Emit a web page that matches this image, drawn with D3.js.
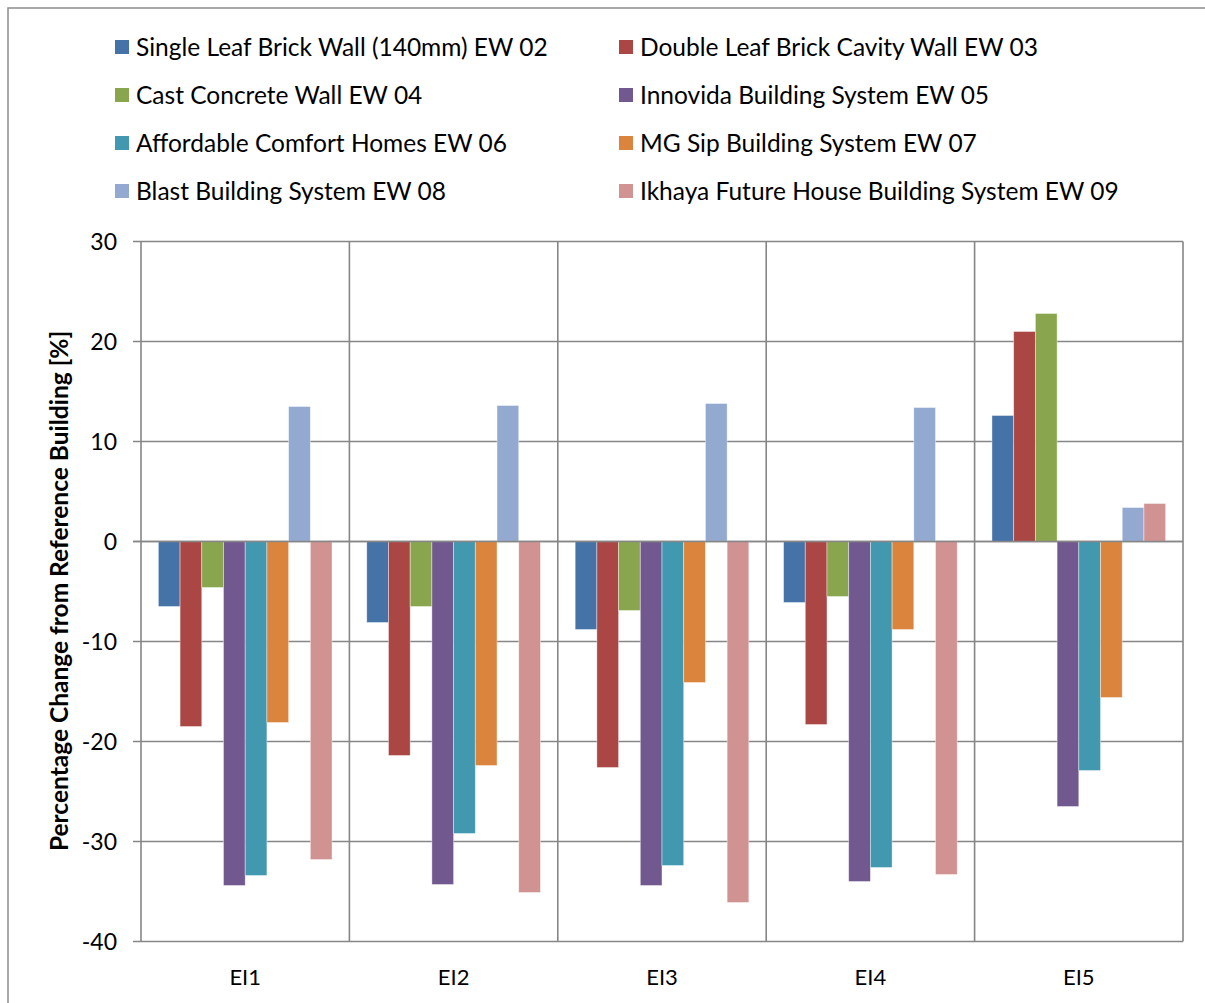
<!DOCTYPE html>
<html lang="en">
<head>
<meta charset="UTF-8">
<title>Percentage Change from Reference Building</title>
<script src="https://d3js.org/d3.v7.min.js"></script>
<style>
  body { margin: 0; background: #fff; }
  svg { display: block; font-family: Lato, "Open Sans", sans-serif; }
  .grid line { stroke: #868686; stroke-width: 1.6; }
  .axis text { font-size: 23px; fill: #000; }
  .legend text { font-size: 24.5px; fill: #000; }
</style>
</head>
<body>
<div id="chart"></div>
<script>
// categories (x axis)
const categories = ["EI1", "EI2", "EI3", "EI4", "EI5"];

// series names
const seriesNames = [
  "Single Leaf Brick Wall (140mm) EW 02",
  "Double Leaf Brick Cavity Wall EW 03",
  "Cast Concrete Wall EW 04",
  "Innovida Building System EW 05",
  "Affordable Comfort Homes EW 06",
  "MG Sip Building System EW 07",
  "Blast Building System EW 08",
  "Ikhaya Future House Building System EW 09"
];

const seriesColors = ["#4572A7", "#AA4643", "#89A54E", "#71588F", "#4198AF", "#DB843D", "#93A9CF", "#D19392"];

// values per series, one per category (EI1..EI5)
const ew02 = [-6.5, -8.1, -8.8, -6.1, 12.6];
const ew03 = [-18.5, -21.4, -22.6, -18.3, 21.0];
const ew04 = [-4.6, -6.5, -6.9, -5.5, 22.8];
const ew05 = [-34.4, -34.3, -34.4, -34.0, -26.5];
const ew06 = [-33.4, -29.2, -32.4, -32.6, -22.9];
const ew07 = [-18.1, -22.4, -14.1, -8.8, -15.6];
const ew08 = [13.5, 13.6, 13.8, 13.4, 3.4];
const ew09 = [-31.8, -35.1, -36.1, -33.3, 3.8];

const yTicks = [30, 20, 10, 0, -10, -20, -30, -40];

const seriesValues = [ew02, ew03, ew04, ew05, ew06, ew07, ew08, ew09];

const W = 1205, H = 1003;
const plot = { left: 141, right: 1183, top: 241.5, bottom: 941.5 };

const svg = d3.select("#chart").append("svg")
  .attr("width", W)
  .attr("height", H);

svg.append("rect").attr("width", W).attr("height", H).attr("fill", "#fff");

// outer chart frame
svg.append("rect")
  .attr("x", 8).attr("y", 8)
  .attr("width", W + 20).attr("height", H + 20)
  .attr("fill", "none")
  .attr("stroke", "#8c8c8c")
  .attr("stroke-width", 1.5);

const x0 = d3.scaleBand().domain(categories).range([plot.left, plot.right]);
const x1 = d3.scaleBand().domain(seriesNames).range([0, x0.bandwidth()])
  .paddingInner(0).paddingOuter(0.8);
const y = d3.scaleLinear().domain([-40, 30]).range([plot.bottom, plot.top]);

// horizontal gridlines
const grid = svg.append("g").attr("class", "grid");
grid.selectAll(".h")
  .data(yTicks)
  .enter().append("line")
  .attr("x1", plot.left - 8).attr("x2", plot.right)
  .attr("y1", d => y(d)).attr("y2", d => y(d));

// vertical gridlines at category boundaries
const bounds = categories.map(c => x0(c)).concat([plot.right]);
grid.selectAll(".v")
  .data(bounds)
  .enter().append("line")
  .attr("x1", d => d).attr("x2", d => d)
  .attr("y1", plot.top).attr("y2", plot.bottom);

// bars
const flat = [];
categories.forEach((c, i) => {
  seriesNames.forEach((s, j) => {
    flat.push({ cat: c, series: s, value: seriesValues[j][i], color: seriesColors[j] });
  });
});

svg.append("g").selectAll("rect")
  .data(flat)
  .enter().append("rect")
  .attr("x", d => x0(d.cat) + x1(d.series))
  .attr("y", d => y(Math.max(0, d.value)))
  .attr("width", x1.bandwidth())
  .attr("height", d => Math.abs(y(d.value) - y(0)))
  .attr("fill", d => d.color)
  .attr("stroke", "#fff")
  .attr("stroke-opacity", 0.5)
  .attr("stroke-width", 0.8);

// zero line redrawn on top
svg.append("line")
  .attr("x1", plot.left - 8).attr("x2", plot.right)
  .attr("y1", y(0)).attr("y2", y(0))
  .attr("stroke", "#868686").attr("stroke-width", 1.6);

// y axis labels
const yAxis = svg.append("g").attr("class", "axis");
yAxis.selectAll("text")
  .data(yTicks)
  .enter().append("text")
  .attr("x", 117)
  .attr("y", d => y(d))
  .attr("dy", "0.35em")
  .attr("text-anchor", "end")
  .text(d => d);

// x axis labels
yAxis.selectAll(".xl")
  .data(categories)
  .enter().append("text")
  .attr("x", d => x0(d) + x0.bandwidth() / 2)
  .attr("y", 985)
  .attr("text-anchor", "middle")
  .style("font-size", "22px")
  .text(d => d);

// y axis title
svg.append("text")
  .attr("transform", "translate(68,591) rotate(-90)")
  .attr("text-anchor", "middle")
  .style("font-size", "24.5px")
  .style("font-weight", "bold")
  .text("Percentage Change from Reference Building [%]");

// legend
const legend = svg.append("g").attr("class", "legend");
const items = legend.selectAll("g")
  .data(seriesNames)
  .enter().append("g")
  .attr("transform", (d, i) => `translate(${i % 2 === 0 ? 115 : 619},${47 + Math.floor(i / 2) * 48})`);

items.append("rect")
  .attr("x", 0).attr("y", -7)
  .attr("width", 14).attr("height", 14)
  .attr("fill", (d, i) => seriesColors[i]);

items.append("text")
  .attr("x", 21)
  .attr("dy", "0.35em")
  .text(d => d);
</script>
</body>
</html>
